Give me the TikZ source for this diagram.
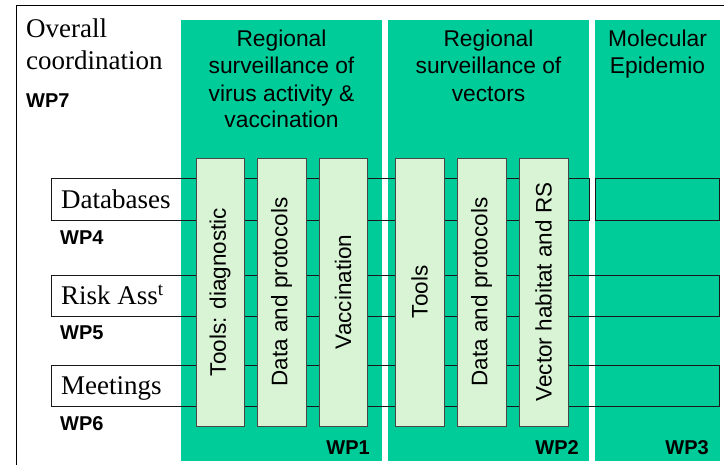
\documentclass[tikz,border=0pt]{standalone}
\usepackage{fontspec}
\setmainfont{Liberation Serif}
\setsansfont{Liberation Sans}
\definecolor{wpgreen}{RGB}{0,204,153}
\definecolor{boxgreen}{RGB}{216,244,212}
\definecolor{linecol}{RGB}{25,25,25}
\tikzset{
  panel/.style={fill=wpgreen, draw=none},
  band/.style={draw=linecol, line width=0.9pt},
  taskbox/.style={fill=boxgreen, draw=linecol!80, line width=0.9pt},
  serif/.style={font=\rmfamily\fontsize{27}{32}\selectfont, inner sep=0pt},
  wp/.style={font=\sffamily\bfseries\fontsize{20}{24}\selectfont, inner sep=0pt},
  title/.style={font=\sffamily\fontsize{22.8}{27}\selectfont, inner sep=0pt, anchor=base},
  vlabel/.style={font=\sffamily\fontsize{22.5}{27}\selectfont, inner sep=0pt, rotate=90, anchor=center},
}
\begin{document}
\begin{tikzpicture}[x=1pt,y=1pt]
\useasboundingbox (0,0) rectangle (724,-465);
% outer frame
\coordinate (ftl) at (16,-6);
\coordinate (ftr) at (724,-6);
\coordinate (fbl) at (16,-465);
\draw[line width=1pt] (fbl) -- (ftl) -- (ftr);
% green panels
\path[panel] (181,-20) rectangle (382,-461);
\path[panel] (388,-20) rectangle (589,-461);
\path[panel] (595,-20) rectangle (720,-461);
% bands
\fill[white] (51,-178) rectangle (181,-220);
\fill[white] (51,-275) rectangle (181,-316);
\fill[white] (51,-365) rectangle (181,-406);
\draw[band] (51,-178) rectangle (589,-220);
\draw[band] (595,-178) rectangle (719,-220);
\draw[band] (51,-275) rectangle (719,-316);
\draw[band] (51,-365) rectangle (719,-406);
% task boxes
\draw[taskbox] (196,-158) rectangle (244,-426);
\draw[taskbox] (257,-158) rectangle (306,-426);
\draw[taskbox] (319,-158) rectangle (367,-426);
\draw[taskbox] (395,-158) rectangle (444,-426);
\draw[taskbox] (457,-158) rectangle (506,-426);
\draw[taskbox] (519,-158) rectangle (568,-426);
% vertical labels
\node[vlabel] (t1) at (220,-292) {Tools: diagnostic};
\node[vlabel] (t2) at (281.5,-292) {Data and protocols};
\node[vlabel] (t3) at (343,-292) {Vaccination};
\node[vlabel] (t4) at (419.5,-292) {Tools};
\node[vlabel] (t5) at (481.5,-292) {Data and protocols};
\node[vlabel] (t6) at (543.5,-292) {Vector habitat and RS};
% left texts
\node[serif, anchor=base west] (ov1) at (26,-38) {Overall};
\node[serif, anchor=base west] (ov2) at (26,-70) {coordination};
\node[wp, anchor=base west] (wp7) at (26,-108) {WP7};
\node[serif, anchor=base west] (db) at (61,-209) {Databases};
\node[wp, anchor=base west] (wp4) at (60,-245) {WP4};
\node[serif, anchor=base west] (ra) at (61,-305) {Risk Ass\textsuperscript{t}};
\node[wp, anchor=base west] (wp5) at (60,-340) {WP5};
\node[serif, anchor=base west] (mt) at (61,-395) {Meetings};
\node[wp, anchor=base west] (wp6) at (60,-431) {WP6};
% panel titles
\node[title] (a1) at (281.5,-46.7) {Regional};
\node[title] (a2) at (281.5,-74) {surveillance of};
\node[title] (a3) at (281.5,-101.7) {virus activity \&};
\node[title] (a4) at (281.5,-128) {vaccination};
\node[title] (b1) at (488.5,-46.7) {Regional};
\node[title] (b2) at (488.5,-74) {surveillance of};
\node[title] (b3) at (488.5,-101.7) {vectors};
\node[title] (c1) at (657.5,-46.7) {Molecular};
\node[title] (c2) at (657.5,-74) {Epidemio};
% WP labels in panels
\node[wp, anchor=base east] (wp1) at (370,-454) {WP1};
\node[wp, anchor=base east] (wp2) at (579,-454) {WP2};
\node[wp, anchor=base east] (wp3) at (709,-454) {WP3};
\end{tikzpicture}
\end{document}
